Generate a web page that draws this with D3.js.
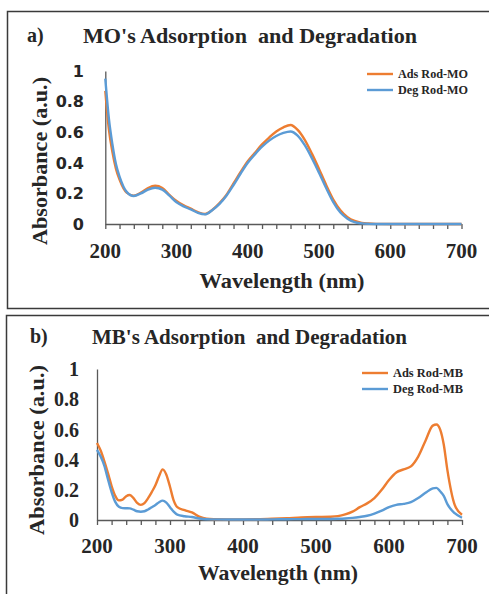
<!DOCTYPE html>
<html>
<head>
<meta charset="utf-8">
<script src="https://cdn.jsdelivr.net/npm/d3@7"></script>
<style>
  body { margin: 0; background: #fff; }
</style>
</head>
<body>
<div id="my_dataviz"></div>
<script>
// panel a : methyl orange spectra
var moWavelength = [200,205,210,215,220,230,240,250,260,270,280,290,300,310,320,330,340,350,360,370,
  380,390,400,410,420,430,440,450,460,470,480,490,500,510,520,530,540,550,560,570,580,600,650,700];
var moAds = [0.87,0.62,0.47,0.36,0.29,0.205,0.185,0.205,0.235,0.25,0.235,0.19,0.15,0.122,0.1,0.077,0.065,0.092,0.135,0.19,
  0.265,0.34,0.41,0.465,0.52,0.565,0.605,0.632,0.647,0.615,0.55,0.46,0.36,0.255,0.16,0.09,0.045,0.02,0.007,0.003,0.001,0,0,0];
var moDeg = [0.95,0.69,0.52,0.39,0.31,0.21,0.183,0.2,0.225,0.237,0.225,0.185,0.142,0.115,0.095,0.073,0.063,0.09,0.13,0.185,
  0.255,0.33,0.4,0.455,0.505,0.545,0.575,0.595,0.605,0.578,0.515,0.43,0.335,0.235,0.143,0.075,0.035,0.012,0.004,0.001,0,0,0,0];

// panel b : methylene blue spectra
var mbWavelength = [200,205,210,215,220,225,230,235,240,245,250,255,260,265,270,275,280,285,290,295,300,305,310,
  320,330,340,350,360,380,400,420,440,460,480,500,520,
  530,540,550,560,570,580,590,600,610,620,630,640,650,660,665,670,675,680,690,700];
var mbAds = [0.51,0.46,0.39,0.31,0.225,0.16,0.13,0.135,0.158,0.166,0.145,0.113,0.1,0.112,0.145,0.185,0.23,0.29,0.335,0.3,0.22,0.13,0.085,
  0.065,0.05,0.022,0.008,0.005,0.004,0.004,0.005,0.008,0.012,0.017,0.02,0.022,
  0.026,0.037,0.055,0.085,0.11,0.145,0.2,0.265,0.315,0.335,0.355,0.42,0.525,0.625,0.632,0.6,0.5,0.33,0.1,0.035];
var mbDeg = [0.465,0.42,0.36,0.27,0.185,0.12,0.088,0.079,0.078,0.077,0.068,0.058,0.055,0.058,0.07,0.085,0.1,0.118,0.128,0.115,0.085,0.055,0.035,
  0.025,0.02,0.01,0.005,0.004,0.003,0.003,0.003,0.004,0.005,0.006,0.007,0.007,
  0.008,0.01,0.014,0.02,0.028,0.042,0.062,0.085,0.1,0.107,0.118,0.145,0.18,0.21,0.213,0.19,0.16,0.105,0.045,0.015];

var xTickLabels = [200,300,400,500,600,700];
var yTickLabels = ["0","0.2","0.4","0.6","0.8","1"];

var ORANGE = "#ED7D31", BLUE = "#5B9BD5";
var SERIF = "'Liberation Serif', 'DejaVu Serif', serif";

var svg = d3.select("#my_dataviz")
  .append("svg")
  .attr("width", 489)
  .attr("height", 594)
  .attr("font-family", SERIF)
  .attr("font-weight", "bold");

svg.append("rect").attr("width", 489).attr("height", 594).attr("fill", "#fff");

function label(g, txt, size) {
  return g.append("text")
    .attr("font-family", SERIF)
    .attr("font-weight", "bold")
    .attr("font-size", size)
    .attr("fill", "#262626")
    .text(txt);
}

function drawPanel(p) {
  var g = svg.append("g");

  // frame around panel
  g.append("rect")
    .attr("x", p.frame[0]).attr("y", p.frame[1])
    .attr("width", p.frame[2]).attr("height", p.frame[3])
    .attr("fill", "none").attr("stroke", "#3a3a3a").attr("stroke-width", 1.5);

  var x = d3.scaleLinear().domain([200, 700]).range(p.xRange);
  var y = d3.scaleLinear().domain([0, 1]).range(p.yRange);

  // x axis with a small tick every 20 nm
  var xAxis = g.append("g")
    .attr("transform", "translate(0," + p.yRange[0] + ")")
    .call(d3.axisBottom(x).tickValues(d3.range(200, 701, 20)).tickSize(5).tickSizeOuter(0).tickFormat(""));
  xAxis.selectAll("path, line").attr("stroke", "#595959").attr("stroke-width", 1.3);

  xTickLabels.forEach(function(d) {
    label(g, d, 21)
      .attr("x", x(d))
      .attr("y", p.xLabY)
      .attr("text-anchor", "middle");
  });

  // y axis: only the line
  var yAxis = g.append("g")
    .attr("transform", "translate(" + p.xRange[0] + ",0)")
    .call(d3.axisLeft(y).tickValues([]).tickSizeOuter(0));
  yAxis.select("path").attr("stroke", "#595959").attr("stroke-width", 1.3);

  yTickLabels.forEach(function(d) {
    label(g, d, p.yFontSize)
      .attr("x", p.yLabX)
      .attr("y", y(+d))
      .attr("dy", "0.36em")
      .attr("text-anchor", "end")
      .attr("font-family", p.yFont);
  });

  var line = d3.line()
    .x(function(d) { return x(d[0]); })
    .y(function(d) { return y(d[1]); })
    .curve(d3.curveMonotoneX);

  p.series.forEach(function(s) {
    g.append("path")
      .datum(d3.zip(p.wavelength, s.values))
      .attr("fill", "none")
      .attr("stroke", s.color)
      .attr("stroke-width", 2.4)
      .attr("stroke-linejoin", "round")
      .attr("d", line);
  });

  // legend
  p.series.forEach(function(s, i) {
    var ly = p.legend[1] + i * 16;
    g.append("line")
      .attr("x1", p.legend[0]).attr("x2", p.legend[0] + 26)
      .attr("y1", ly).attr("y2", ly)
      .attr("stroke", s.color).attr("stroke-width", 2.4);
    label(g, s.name, 12.5)
      .attr("x", p.legend[0] + 31).attr("y", ly + 4)
      .attr("textLength", 70).attr("lengthAdjust", "spacingAndGlyphs");
  });

  // titles
  label(g, p.tagText, 20)
    .attr("x", p.tag[0]).attr("y", p.tag[1]);
  label(g, p.titleText, 21)
    .attr("x", p.title[0]).attr("y", p.title[1])
    .attr("textLength", p.title[2]).attr("lengthAdjust", "spacingAndGlyphs");

  label(g, "Absorbance (a.u.)", 20)
    .attr("transform", "translate(" + p.yTitle[0] + "," + p.yTitle[1] + ") rotate(-90)")
    .attr("text-anchor", "middle")
    .attr("textLength", p.yTitle[2]).attr("lengthAdjust", "spacingAndGlyphs");

  label(g, "Wavelength (nm)", 22)
    .attr("x", p.xTitle[0]).attr("y", p.xTitle[1])
    .attr("text-anchor", "middle")
    .attr("textLength", p.xTitle[2]).attr("lengthAdjust", "spacingAndGlyphs");
}

drawPanel({
  frame: [7.5, 11.5, 500, 297],
  xRange: [105.3, 461.5], yRange: [224, 71],
  xLabY: 258, yLabX: 84, yFont: "DejaVu Sans", yFontSize: 16,
  wavelength: moWavelength,
  series: [{name: "Ads Rod-MO", values: moAds, color: ORANGE},
           {name: "Deg Rod-MO", values: moDeg, color: BLUE}],
  legend: [367, 74],
  tag: [27, 42], tagText: "a)",
  title: [83, 43, 334], titleText: "MO's Adsorption\u00a0 and Degradation",
  yTitle: [47, 161, 168],
  xTitle: [282, 288, 165]
});

drawPanel({
  frame: [6.5, 315.5, 500, 300],
  xRange: [97, 462], yRange: [520, 369],
  xLabY: 553, yLabX: 79, yFont: SERIF, yFontSize: 20,
  wavelength: mbWavelength,
  series: [{name: "Ads Rod-MB", values: mbAds, color: ORANGE},
           {name: "Deg Rod-MB", values: mbDeg, color: BLUE}],
  legend: [362, 373],
  tag: [30, 343], tagText: "b)",
  title: [92, 344, 315], titleText: "MB's Adsorption\u00a0 and Degradation",
  yTitle: [44, 450, 170],
  xTitle: [278, 580, 160]
});
</script>
</body>
</html>
